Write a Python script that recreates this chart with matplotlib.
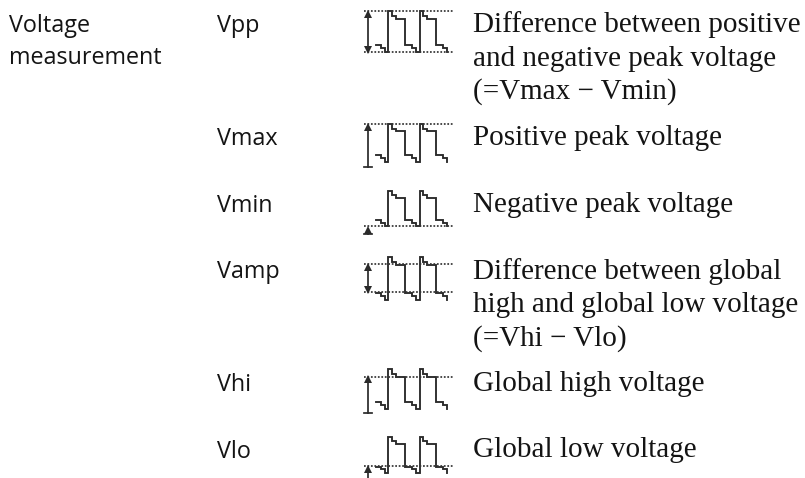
import matplotlib
matplotlib.use("Agg")
import matplotlib.pyplot as plt

W, H = 805, 478
SANS = "Open Sans"
SERIF = "Liberation Serif"

category = ["Voltage", "measurement"]
category_base = [32, 64]
names = ["Vpp", "Vmax", "Vmin", "Vamp", "Vhi", "Vlo"]
name_base = [32, 145, 212, 278, 391, 458]
descriptions = [
    ["Difference between positive", "and negative peak voltage", "(=Vmax \u2212 Vmin)"],
    ["Positive peak voltage"],
    ["Negative peak voltage"],
    ["Difference between global", "high and global low voltage", "(=Vhi \u2212 Vlo)"],
    ["Global high voltage"],
    ["Global low voltage"],
]
desc_base = [32, 145, 212, 279, 391, 457]
line_gap = 33.5

# Waveform outline as offsets in pixels from the start of one trace
wave_dx = [0, 5, 5, 9, 9, 12, 12, 16, 16, 20, 20, 29, 29, 36, 36, 40, 40, 44, 44, 47, 47, 51, 51, 60, 60, 67, 67, 71, 71]
wave_lv = [7, 7, 4, 4, 0, 0, 41, 41, 36, 36, 33.5, 33.5, 7, 7, 4, 4, 0, 0, 41, 41, 36, 36, 33.5, 33.5, 7, 7, 4, 4, 0]
wave_bottom = [52, 162, 226, 300, 409, 473]
wave_scale = [1, 0.93, 0.85, 1.05, 0.97, 0.88]
# dotted reference lines per icon
dotted = [[11, 52], [124], [226], [264, 292], [376.7], [466]]
# arrows: y start, y end, head at end, flat bar at end
arrows = [(13, 51, True, False), (126, 166.5, False, True), (228.5, 234, False, True),
          (266, 291, True, False), (378, 412.7, False, True), (468, 478, False, False)]

fig = plt.figure(figsize=(W / 100, H / 100), dpi=100)
ax = fig.add_axes([0, 0, 1, 1])
ax.set_xlim(0, W)
ax.set_ylim(H, 0)
ax.axis("off")

tkw = dict(va="baseline", ha="left", color="#141414")
for line, y in zip(category, category_base):
    ax.text(8.5, y, line, family=SANS, fontsize=16.8, **tkw)
for n, y in zip(names, name_base):
    ax.text(217, y, n, family=SANS, fontsize=16.8, **tkw)
for lines, y in zip(descriptions, desc_base):
    for i, line in enumerate(lines):
        ax.text(473, y + i * line_gap, line, family=SERIF, fontsize=21, **tkw)

ink = "#2a2a2a"
for bottom, sc, dots, arr in zip(wave_bottom, wave_scale, dotted, arrows):
    xs = [376 + d for d in wave_dx]
    ys = [bottom - v * sc for v in wave_lv]
    ax.plot(xs, ys, color=ink, lw=1.35, solid_joinstyle="miter")
    for y in dots:
        ax.plot([364, 453], [y, y], color="#333333", lw=1.25, ls=(0, (1, 1)))
    y0, y1, head_end, bar_end = arr
    ax.plot([368, 368], [y0, y1], color=ink, lw=1.25)
    ax.plot([368], [y0 + 1], marker="^", ms=6, color=ink, mew=0)
    if head_end:
        ax.plot([368], [y1 - 1], marker="v", ms=6, color=ink, mew=0)
    if bar_end:
        ax.plot([364, 372], [y1, y1], color=ink, lw=1.25)

fig.savefig("out.png", dpi=100, facecolor="white")
